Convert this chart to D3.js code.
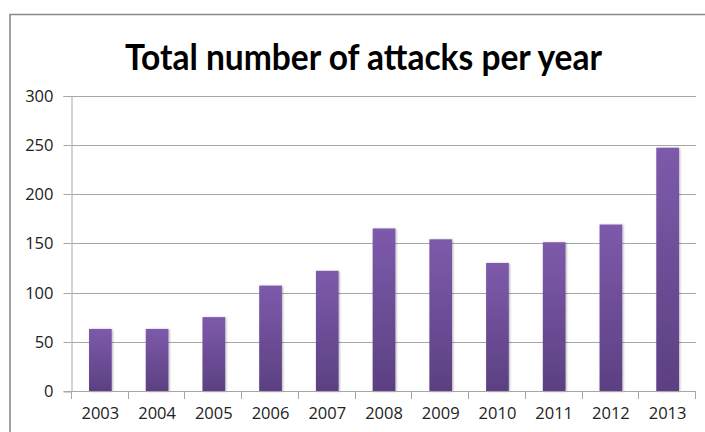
<!DOCTYPE html>
<html><head><meta charset="utf-8">
<script src="https://cdn.jsdelivr.net/npm/d3@7/dist/d3.min.js"></script>
<style>
html,body{margin:0;padding:0;background:#fff;}
svg{display:block;}
</style>
</head><body>
<svg id="chart" width="705" height="432"></svg>
<script>
const title = "Total number of attacks per year";
const years = ["2003","2004","2005","2006","2007","2008","2009","2010","2011","2012","2013"];
const attacks = [63, 63, 75, 107, 122, 165, 154, 130, 151, 169, 247];
const yTicks = [0, 50, 100, 150, 200, 250, 300];

const svg = d3.select("#chart");
const W = 705, H = 432;
const margin = {left: 72, right: 9, top: 95.5, bottom: 41};
const x = d3.scaleBand().domain(years).range([margin.left, W - margin.right]).paddingInner(0.6).paddingOuter(0.3);
const y = d3.scaleLinear().domain([0, 300]).range([H - margin.bottom, margin.top]);

const defs = svg.append("defs");
const grad = defs.append("linearGradient").attr("id","barGrad").attr("x1",0).attr("y1",0).attr("x2",0).attr("y2",1);
grad.append("stop").attr("offset","0%").attr("stop-color","#7d5aab");
grad.append("stop").attr("offset","100%").attr("stop-color","#5c4082");
const f = defs.append("filter").attr("id","shadow").attr("x","-20%").attr("y","-10%").attr("width","140%").attr("height","120%");
f.append("feDropShadow").attr("dx",1).attr("dy",0.5).attr("stdDeviation",1.2).attr("flood-color","#000").attr("flood-opacity",0.3);

// outer frame
svg.append("path").attr("d", `M10,${H+2} V14.5 H${W+2}`).attr("fill","none").attr("stroke","#8a8a8a").attr("stroke-width",1.6);

// title
svg.append("text").attr("x", (125+602)/2).attr("y", 69.5).attr("text-anchor","middle")
  .attr("font-family","Lato, 'Open Sans', sans-serif").attr("font-weight","bold").attr("font-size",36)
  .attr("textLength", 477).attr("lengthAdjust","spacingAndGlyphs").attr("fill","#000").text(title);

// gridlines
svg.append("g").selectAll("line").data(yTicks.filter(d=>d>0)).join("line")
  .attr("x1", margin.left).attr("x2", W - margin.right)
  .attr("y1", d=>Math.round(y(d))+0.5).attr("y2", d=>Math.round(y(d))+0.5)
  .attr("stroke","#a6a6a6").attr("stroke-width",1);

// y axis
const yAxis = d3.axisLeft(y).tickValues(yTicks).tickSize(8).tickPadding(10);
const gy = svg.append("g").attr("transform",`translate(${margin.left - 0.5},0.5)`).call(yAxis);
gy.select(".domain").attr("stroke","#a6a6a6");
gy.selectAll(".tick line").attr("stroke","#a6a6a6");
gy.selectAll(".tick").attr("transform", d=>`translate(0,${Math.round(y(d))})`);
gy.selectAll("text").attr("font-family","'Open Sans', sans-serif").attr("font-size",16.5).attr("fill","#222");

// bars
svg.append("g").selectAll("rect").data(attacks).join("rect")
  .attr("x", (d,i)=>x(years[i])).attr("width", x.bandwidth())
  .attr("y", d=>y(d)).attr("height", d=>y(0)-y(d))
  .attr("fill","url(#barGrad)").attr("filter","url(#shadow)");

// x axis
const xTicks = d3.range(years.length+1).map(i => margin.left + i*(W - margin.right - margin.left)/years.length);
const gx = svg.append("g");
gx.append("line").attr("x1", margin.left).attr("x2", W - margin.right)
  .attr("y1", Math.round(y(0))+0.5).attr("y2", Math.round(y(0))+0.5).attr("stroke","#a6a6a6");
gx.selectAll("line.t").data(xTicks).join("line").attr("class","t")
  .attr("x1", d=>Math.round(d)-0.5).attr("x2", d=>Math.round(d)-0.5)
  .attr("y1", Math.round(y(0))).attr("y2", Math.round(y(0))+8).attr("stroke","#a6a6a6");
gx.selectAll("text").data(years).join("text")
  .attr("x", d=>x(d)+x.bandwidth()/2).attr("y", 419)
  .attr("text-anchor","middle").attr("font-family","'Open Sans', sans-serif").attr("font-size",16.5).attr("fill","#222")
  .text(d=>d);
</script>
</body></html>
